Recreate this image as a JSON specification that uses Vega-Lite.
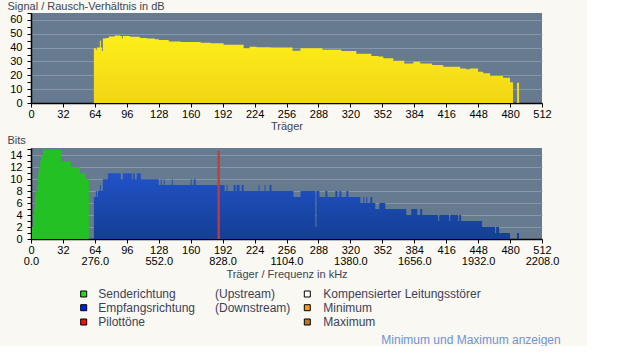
{
  "$schema": "https://vega.github.io/schema/vega-lite/v6.json",
  "background": "#f9f8f3",
  "padding": {"left": 7, "top": 0, "right": 0, "bottom": 0},
  "spacing": 3,
  "config": {
    "view": {"stroke": null},
    "axis": {
      "labelFont": "Liberation Sans", "labelFontSize": 11, "labelColor": "#000000",
      "titleFont": "Liberation Sans", "titleFontSize": 11, "titleFontWeight": "normal", "titleColor": "#3c4452",
      "domainColor": "#000000", "domainWidth": 1.5, "tickColor": "#000000", "tickSize": 4, "grid": false,
      "labelOverlap": false, "labelFlush": false
    },
    "text": {"font": "Liberation Sans"}
  },
  "vconcat": [
    {
      "width": 511, "height": 90,
      "view": {"fill": "#667b8f", "stroke": null},
      "data": {"values": [
        {"c":0,"v":0},{"c":63,"v":39.5},{"c":65,"v":38.5},{"c":66,"v":40},{"c":69,"v":45},{"c":70,"v":40},{"c":71,"v":37.5},{"c":72,"v":46.5},{"c":75,"v":47},{"c":78,"v":48},{"c":84,"v":48.8},{"c":89,"v":48.4},{"c":91,"v":46.5},{"c":92,"v":48.4},{"c":99,"v":47.9},{"c":109,"v":47},{"c":116,"v":46.5},{"c":124,"v":46},{"c":128,"v":45.5},{"c":138,"v":44.5},{"c":150,"v":44},{"c":160,"v":44},{"c":170,"v":43.5},{"c":180,"v":43.1},{"c":193,"v":42},{"c":213,"v":39.5},{"c":219,"v":40.6},{"c":226,"v":40.2},{"c":240,"v":40},{"c":262,"v":37.8},{"c":270,"v":39.5},{"c":292,"v":38.5},{"c":311,"v":37.5},{"c":326,"v":35.5},{"c":341,"v":34},{"c":348,"v":33.6},{"c":353,"v":32.3},{"c":363,"v":30.6},{"c":374,"v":28.6},{"c":383,"v":29.8},{"c":390,"v":28.6},{"c":402,"v":27.4},{"c":413,"v":26.2},{"c":430,"v":25},{"c":436,"v":24.3},{"c":440,"v":25},{"c":448,"v":22.6},{"c":453,"v":21.4},{"c":460,"v":19.5},{"c":473,"v":18.3},{"c":480,"v":15},{"c":483,"v":0},{"c":487,"v":14.7},{"c":489,"v":0},{"c":512,"v":0}
      ]},
      "mark": {"type": "area", "interpolate": "step-after",
        "color": {"x1": 0, "y1": 0, "x2": 0, "y2": 1, "gradient": "linear",
          "stops": [{"offset": 0, "color": "#fdee1a"}, {"offset": 1, "color": "#f2d515"}]}},
      "encoding": {
        "x": {"field": "c", "type": "quantitative",
          "scale": {"domain": [0, 512], "nice": false, "zero": false},
          "axis": {"values": [0,32,64,96,128,160,192,224,256,288,320,352,384,416,448,480,512],
            "title": "Träger", "labelPadding": 1, "titlePadding": 1}},
        "y": {"field": "v", "type": "quantitative",
          "scale": {"domain": [0, 65], "nice": false},
          "axis": {"values": [0,5,10,15,20,25,30,35,40,45,50,55,60,65],
            "labelExpr": "datum.value % 10 === 0 ? datum.label : ''",
            "grid": true,
            "gridColor": {"condition": {"test": "datum.value % 10 === 0 && datum.value > 0", "value": "#8597a9"}, "value": "transparent"},
            "labelPadding": 5,
            "title": "Signal / Rausch-Verhältnis in dB", "titleAngle": 0, "titleAlign": "left",
            "titleBaseline": "alphabetic", "titleX": -24, "titleY": -3.5}}
      }
    },
    {
      "width": 511, "height": 91,
      "view": {"fill": "#667b8f", "stroke": null},
      "encoding": {
        "x": {"field": "c", "type": "quantitative",
          "scale": {"domain": [0, 512], "nice": false, "zero": false},
          "axis": {"values": [0,32,64,96,128,160,192,224,256,288,320,352,384,416,448,480,512],
            "labelExpr": "datum.value % 64 === 0 ? [datum.label, format(datum.value * 4.3125, '.1f')] : datum.label",
            "labelLineHeight": 11,
            "encode": {"labels": {"update": {"lineHeight": {"value": 11}}}},
            "title": "Träger / Frequenz in kHz", "labelPadding": 1, "titlePadding": 2}},
        "y": {"field": "b", "type": "quantitative",
          "scale": {"domain": [0, 15.2], "nice": false},
          "axis": {"values": [0,1,2,3,4,5,6,7,8,9,10,11,12,13,14,15],
            "labelExpr": "datum.value % 2 === 0 ? datum.label : ''",
            "grid": true,
            "gridColor": {"condition": {"test": "datum.value % 2 === 0 && datum.value > 0", "value": "#8597a9"}, "value": "transparent"},
            "labelPadding": 5,
            "title": "Bits", "titleAngle": 0, "titleAlign": "left",
            "titleBaseline": "alphabetic", "titleX": -24, "titleY": -4.5}}
      },
      "layer": [
        {
          "data": {"values": [
            {"c":0,"b":0},{"c":1,"b":2},{"c":2,"b":4},{"c":3,"b":5},{"c":4,"b":7},{"c":5,"b":8},{"c":6,"b":9},{"c":7,"b":11},{"c":8,"b":12},{"c":9,"b":13},{"c":10,"b":14},{"c":12,"b":15},{"c":30,"b":13},{"c":40,"b":12},{"c":49,"b":11},{"c":55,"b":10},{"c":58,"b":0},{"c":512,"b":0}
          ]},
          "mark": {"type": "area", "interpolate": "step-after", "color": "#23c123"}
        },
        {
          "data": {"values": [
            {"c":0,"b":0},{"c":63,"b":7},{"c":65,"b":8},{"c":66,"b":7},{"c":67,"b":8},{"c":69,"b":9},{"c":70,"b":8},{"c":72,"b":10},{"c":77,"b":11},{"c":90,"b":10},{"c":92,"b":11},{"c":101,"b":10},{"c":102,"b":11},{"c":104,"b":10},{"c":106,"b":11},{"c":110,"b":10},{"c":128,"b":9},{"c":130,"b":10},{"c":131,"b":9},{"c":133,"b":10},{"c":134,"b":9},{"c":141,"b":10},{"c":142,"b":9},{"c":160,"b":10},{"c":161,"b":9},{"c":163,"b":10},{"c":165,"b":9},{"c":194,"b":8},{"c":196,"b":9},{"c":197,"b":8},{"c":203,"b":9},{"c":205,"b":8},{"c":206,"b":9},{"c":209,"b":8},{"c":211,"b":9},{"c":213,"b":8},{"c":228,"b":9},{"c":229,"b":8},{"c":234,"b":9},{"c":235,"b":8},{"c":239,"b":9},{"c":241,"b":8},{"c":263,"b":7},{"c":270,"b":8},{"c":285,"b":2},{"c":286,"b":8},{"c":289,"b":7},{"c":295,"b":8},{"c":297,"b":7},{"c":305,"b":8},{"c":307,"b":7},{"c":309,"b":8},{"c":311,"b":7},{"c":316,"b":8},{"c":318,"b":7},{"c":330,"b":6},{"c":333,"b":7},{"c":334,"b":6},{"c":336,"b":7},{"c":337,"b":6},{"c":340,"b":7},{"c":342,"b":6},{"c":345,"b":5},{"c":349,"b":6},{"c":355,"b":5},{"c":376,"b":4},{"c":381,"b":5},{"c":387,"b":4},{"c":390,"b":5},{"c":392,"b":4},{"c":408,"b":3},{"c":409,"b":4},{"c":419,"b":3},{"c":420,"b":4},{"c":428,"b":3},{"c":429,"b":4},{"c":431,"b":3},{"c":452,"b":2},{"c":465,"b":1},{"c":466,"b":2},{"c":469,"b":1},{"c":480,"b":0},{"c":487,"b":1},{"c":489,"b":0},{"c":512,"b":0}
          ]},
          "mark": {"type": "area", "interpolate": "step-after",
            "color": {"x1": 0, "y1": 0, "x2": 0, "y2": 1, "gradient": "linear",
              "stops": [{"offset": 0, "color": "#2152c8"}, {"offset": 1, "color": "#133f94"}]}}
        },
        {
          "data": {"values": [{"c": 188, "b": 14.7}]},
          "mark": {"type": "rule", "color": "#c23a40", "strokeWidth": 2.3},
          "encoding": {"y2": {"datum": 0}}
        }
      ]
    },
    {
      "width": 556, "height": 60,
      "encoding": {
        "x": {"field": "col", "type": "quantitative",
          "scale": {"type": "linear", "domain": [0,1,2,3,4,5], "range": [52.7, 67.3, 184, 276.3, 292.3, 529.7], "nice": false, "zero": false},
          "axis": null},
        "y": {"field": "row", "type": "quantitative",
          "scale": {"type": "linear", "domain": [0,1,2,3], "range": [12, 25.7, 40, 58], "nice": false, "zero": false},
          "axis": null}
      },
      "layer": [
        {
          "data": {"values": [
            {"col":0,"row":0,"item":"Senderichtung"},
            {"col":0,"row":1,"item":"Empfangsrichtung"},
            {"col":0,"row":2,"item":"Pilottöne"},
            {"col":3,"row":0,"item":"Kompensierter Leitungsstörer"},
            {"col":3,"row":1,"item":"Minimum"},
            {"col":3,"row":2,"item":"Maximum"}
          ]},
          "mark": {"type": "point", "shape": "square", "filled": true, "size": 36, "stroke": "#000000", "strokeWidth": 1, "opacity": 1},
          "encoding": {
            "fill": {"field": "item", "type": "nominal", "legend": null,
              "scale": {"domain": ["Senderichtung","Empfangsrichtung","Pilottöne","Kompensierter Leitungsstörer","Minimum","Maximum"],
                "range": ["#22dd22","#0022ee","#ee1111","#ffffff","#f59a1a","#b8782a"]}}
          }
        },
        {
          "data": {"values": [
            {"col":1,"row":0,"text":"Senderichtung"},
            {"col":2,"row":0,"text":"(Upstream)"},
            {"col":4,"row":0,"text":"Kompensierter Leitungsstörer"},
            {"col":1,"row":1,"text":"Empfangsrichtung"},
            {"col":2,"row":1,"text":"(Downstream)"},
            {"col":4,"row":1,"text":"Minimum"},
            {"col":1,"row":2,"text":"Pilottöne"},
            {"col":4,"row":2,"text":"Maximum"}
          ]},
          "mark": {"type": "text", "align": "left", "baseline": "middle", "fontSize": 12, "color": "#3d4157"},
          "encoding": {"text": {"field": "text"}}
        },
        {
          "data": {"values": [{"col":5,"row":3,"text":"Minimum und Maximum anzeigen"}]},
          "mark": {"type": "text", "align": "right", "baseline": "middle", "fontSize": 12, "color": "#6f93d8"},
          "encoding": {"text": {"field": "text"}}
        }
      ]
    }
  ]
}
